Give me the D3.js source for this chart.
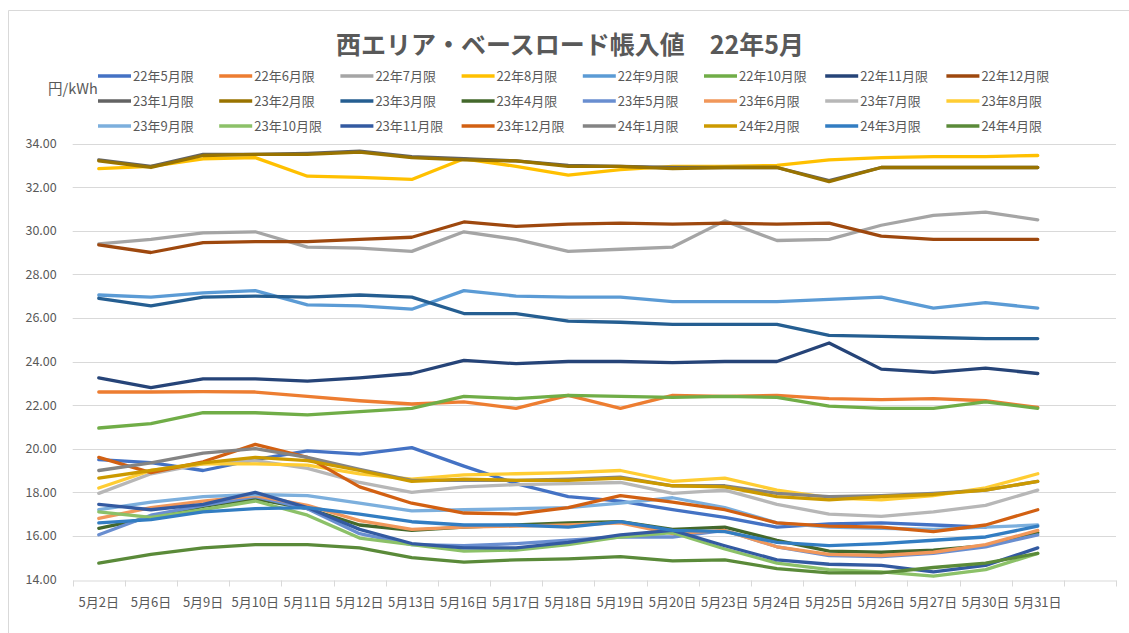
<!DOCTYPE html>
<html>
<head>
<meta charset="utf-8">
<script src="https://cdn.jsdelivr.net/npm/d3@7"></script>
<style>
  body { margin: 0; background: #fff; }
  text { font-family: "Noto Sans CJK JP", "Noto Sans", sans-serif; fill: #595959; }
</style>
</head>
<body>
<script>
// categories (last band is empty, as in the original sheet)
var dates = ["5月2日","5月6日","5月9日","5月10日","5月11日","5月12日","5月13日","5月16日","5月17日","5月18日",
             "5月19日","5月20日","5月23日","5月24日","5月25日","5月26日","5月27日","5月30日","5月31日",""];

var yTicks = [14,16,18,20,22,24,26,28,30,32,34];

var names = ["22年5月限","22年6月限","22年7月限","22年8月限","22年9月限","22年10月限","22年11月限","22年12月限",
             "23年1月限","23年2月限","23年3月限","23年4月限","23年5月限","23年6月限","23年7月限","23年8月限",
             "23年9月限","23年10月限","23年11月限","23年12月限","24年1月限","24年2月限","24年3月限","24年4月限"];

var colors = ["#4472C4","#ED7D31","#A5A5A5","#FFC000","#5B9BD5","#70AD47","#264478","#9E480E",
              "#636363","#997300","#255E91","#43682B","#698ED0","#F1975A","#B7B7B7","#FFCD33",
              "#7CAFDD","#8CC168","#335AA1","#D26012","#848484","#CC9A00","#327DC2","#5A8A39"];

// settlement prices (yen/kWh), one value per date
var m2205 = [19.5,19.36,19.0,19.5,19.9,19.75,20.05,19.2,18.4,17.8,17.6,17.2,16.85,16.4,16.55,16.6,16.5,16.4,null];
var m2206 = [22.6,22.6,22.62,22.6,22.4,22.2,22.05,22.15,21.85,22.45,21.85,22.45,22.4,22.45,22.3,22.25,22.3,22.2,21.9];
var m2207 = [29.4,29.6,29.9,29.95,29.25,29.2,29.05,29.95,29.6,29.05,29.15,29.25,30.45,29.55,29.6,30.25,30.7,30.85,30.5];
var m2208 = [32.85,32.95,33.3,33.35,32.5,32.45,32.35,33.3,32.95,32.55,32.8,32.95,32.95,33.0,33.25,33.35,33.4,33.4,33.45];
var m2209 = [27.05,26.95,27.15,27.25,26.6,26.55,26.4,27.25,27.0,26.95,26.95,26.75,26.75,26.75,26.85,26.95,26.45,26.7,26.45];
var m2210 = [20.95,21.15,21.65,21.65,21.55,21.7,21.85,22.4,22.3,22.45,22.4,22.35,22.4,22.35,21.95,21.85,21.85,22.15,21.85];
var m2211 = [23.25,22.8,23.2,23.2,23.1,23.25,23.45,24.05,23.9,24.0,24.0,23.95,24.0,24.0,24.85,23.65,23.5,23.7,23.45];
var m2212 = [29.35,29.0,29.45,29.5,29.5,29.6,29.7,30.4,30.2,30.3,30.35,30.3,30.35,30.3,30.35,29.75,29.6,29.6,29.6];
var m2301 = [33.25,32.95,33.5,33.5,33.55,33.65,33.4,33.3,33.2,33.0,32.95,32.9,32.9,32.9,32.3,32.9,32.9,32.9,32.9];
var m2302 = [33.2,32.9,33.45,33.5,33.5,33.6,33.35,33.25,33.2,32.95,32.95,32.85,32.9,32.9,32.25,32.9,32.9,32.9,32.9];
var m2303 = [26.9,26.55,26.95,27.0,26.95,27.05,26.95,26.2,26.2,25.85,25.8,25.7,25.7,25.7,25.2,25.15,25.1,25.05,25.05];
var m2304 = [16.35,16.85,17.35,17.7,17.25,16.5,16.25,16.4,16.5,16.6,16.65,16.3,16.4,15.8,15.3,15.25,15.35,15.55,16.15];
var m2305 = [16.05,16.95,17.4,17.8,17.25,16.1,15.6,15.55,15.65,15.8,15.95,15.95,16.25,15.5,15.1,15.05,15.2,15.5,16.05];
var m2306 = [16.8,17.3,17.6,17.85,17.4,16.7,16.3,16.4,16.45,16.5,16.6,16.1,16.25,15.5,15.15,15.1,15.25,15.6,16.25];
var m2307 = [17.95,18.85,19.3,19.45,19.1,18.45,18.0,18.25,18.35,18.4,18.45,17.95,18.1,17.45,17.0,16.9,17.1,17.4,18.1];
var m2308 = [18.2,19.0,19.3,19.3,19.25,18.85,18.6,18.8,18.85,18.9,19.0,18.5,18.65,18.1,17.75,17.65,17.85,18.2,18.85];
var m2309 = [17.2,17.55,17.8,17.9,17.85,17.5,17.15,17.2,17.25,17.3,17.5,17.75,17.3,16.6,16.4,16.35,16.3,16.4,16.5];
var m2310 = [17.1,16.85,17.2,17.6,16.95,15.9,15.6,15.3,15.35,15.6,15.95,16.15,15.4,14.75,14.45,14.35,14.15,14.45,15.2];
var m2311 = [17.45,17.2,17.45,18.0,17.3,16.3,15.65,15.45,15.45,15.7,16.05,16.25,15.55,14.9,14.7,14.65,14.35,14.65,15.45];
var m2312 = [19.6,18.9,19.4,20.2,19.6,18.25,17.5,17.05,17.0,17.3,17.85,17.55,17.2,16.6,16.45,16.4,16.2,16.5,17.2];
var m2401 = [19.0,19.35,19.8,20.0,19.6,19.05,18.55,18.55,18.55,18.6,18.7,18.3,18.3,17.95,17.8,17.85,17.95,18.1,18.5];
var m2402 = [18.65,19.0,19.35,19.6,19.45,19.0,18.5,18.6,18.55,18.55,18.65,18.3,18.25,17.8,17.65,17.8,17.9,18.1,18.5];
var m2403 = [16.6,16.75,17.1,17.25,17.3,17.0,16.65,16.5,16.5,16.4,16.65,16.25,16.2,15.7,15.55,15.65,15.8,15.95,16.45];
var m2404 = [14.75,15.15,15.45,15.6,15.6,15.45,15.0,14.8,14.9,14.95,15.05,14.85,14.9,14.5,14.3,14.3,14.55,14.75,15.2];

var values = [m2205,m2206,m2207,m2208,m2209,m2210,m2211,m2212,m2301,m2302,m2303,m2304,
              m2305,m2306,m2307,m2308,m2309,m2310,m2311,m2312,m2401,m2402,m2403,m2404];

var Width = 1129, Height = 633;

var svg = d3.select("body").append("svg")
	.attr("width", Width)
	.attr("height", Height);

// chart frame
svg.append("path")
	.attr("d", "M8.5," + Height + "V10.5H" + Width)
	.attr("fill", "none")
	.attr("stroke", "#D9D9D9");

var x = d3.scaleBand().domain(dates).range([72.7, 1116]);
var y = d3.scaleLinear().domain([14, 34]).range([579.5, 143.5]);

// gridlines
svg.append("g").selectAll("line")
	.data(yTicks.slice(1))
	.join("line")
	.attr("x1", x.range()[0]).attr("x2", x.range()[1])
	.attr("y1", d => Math.round(y(d)) + 0.5).attr("y2", d => Math.round(y(d)) + 0.5)
	.attr("stroke", "#D9D9D9").attr("stroke-width", 1);

// y axis labels
var yAxis = d3.axisLeft(y).tickValues(yTicks).tickFormat(d3.format(".2f")).tickSize(0).tickPadding(16);
var gy = svg.append("g").attr("transform", "translate(" + x.range()[0] + ",0)").call(yAxis);
gy.select(".domain").remove();
gy.selectAll("text").style("font-size", "12.5px").attr("fill", "#595959");

// x axis
var xAxis = d3.axisBottom(x).tickSize(0).tickPadding(17);
var gx = svg.append("g").attr("transform", "translate(0," + (Math.round(y(14)) + 0.5) + ")").call(xAxis);
gx.select(".domain").attr("stroke", "#D9D9D9");
gx.selectAll("text").style("font-size", "13px").attr("fill", "#595959");

// tick marks between categories
var edges = dates.map(d => x(d)).concat([x.range()[1]]);
gx.selectAll("line.edge")
	.data(edges)
	.join("line")
	.attr("class", "edge")
	.attr("x1", d => Math.round(d) + 0.5).attr("x2", d => Math.round(d) + 0.5)
	.attr("y1", 0).attr("y2", 6)
	.attr("stroke", "#D9D9D9");

// series lines
var line = d3.line()
	.defined(d => d.v != null)
	.x(d => x(d.date) + x.bandwidth() / 2)
	.y(d => y(d.v));

names.forEach(function(name, i) {
	var pts = values[i].map((v, j) => ({date: dates[j], v: v}));
	svg.append("path")
		.datum(pts)
		.attr("d", line)
		.attr("fill", "none")
		.attr("stroke", colors[i])
		.attr("stroke-width", 3.3)
		.attr("stroke-linejoin", "round")
		.attr("stroke-linecap", "round");
});

// title
svg.append("text")
	.attr("x", 570).attr("y", 54)
	.attr("text-anchor", "middle")
	.style("font-size", "25px").style("font-weight", "bold")
	.text("西エリア・ベースロード帳入値　22年5月");

// unit
svg.append("text")
	.attr("x", 48).attr("y", 94)
	.style("font-size", "14.5px")
	.text("円/kWh");

// legend, 8 per row
var legend = svg.append("g").selectAll("g")
	.data(names)
	.join("g")
	.attr("transform", (d, i) => "translate(" + (98 + (i % 8) * 121.2) + "," + (76 + Math.floor(i / 8) * 25) + ")");
legend.append("line")
	.attr("x1", 0).attr("x2", 33).attr("y1", 0).attr("y2", 0)
	.attr("stroke", (d, i) => colors[i]).attr("stroke-width", 3.3);
legend.append("text")
	.attr("x", 35).attr("y", 4.5)
	.style("font-size", "13px")
	.text(d => d);
</script>
</body>
</html>
